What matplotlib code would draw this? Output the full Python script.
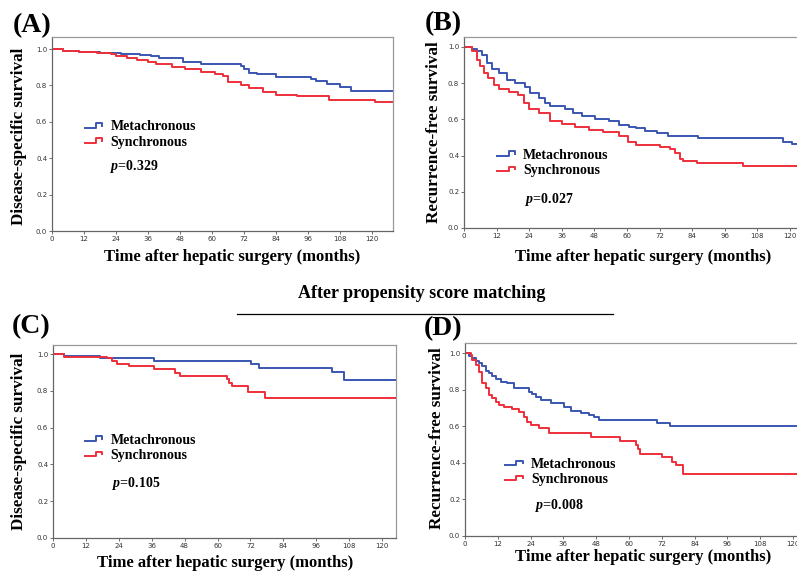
import numpy as np
import matplotlib
matplotlib.use("Agg")
import matplotlib.pyplot as plt
from matplotlib.lines import Line2D
from matplotlib.legend_handler import HandlerLine2D

plt.rcParams['mathtext.fontset'] = 'custom'
plt.rcParams['mathtext.it'] = 'Liberation Serif:italic:bold'
plt.rcParams['mathtext.rm'] = 'Liberation Serif:bold'

BLUE = '#3a56b0'
RED = '#ee2f3a'
SERIF = 'Liberation Serif'

# ---- Kaplan-Meier step data (months, survival) ----
# (A) disease-specific survival, all patients
a_meta_t = [0, 4, 10, 18, 26, 33, 37, 40, 49, 56, 71, 72, 74, 77, 84, 97, 99, 103, 108, 112, 128]
a_meta_s = [1.0, 0.99, 0.985, 0.98, 0.973, 0.968, 0.962, 0.95, 0.93, 0.92, 0.905, 0.89, 0.87, 0.86, 0.848, 0.835, 0.825, 0.81, 0.79, 0.772, 0.772]
a_sync_t = [0, 4, 10, 17, 22, 24, 28, 32, 36, 39, 45, 50, 56, 61, 64, 66, 71, 74, 79, 84, 92, 104, 121, 128]
a_sync_s = [1.0, 0.99, 0.985, 0.98, 0.97, 0.96, 0.952, 0.942, 0.93, 0.918, 0.90, 0.89, 0.875, 0.865, 0.85, 0.82, 0.80, 0.785, 0.762, 0.75, 0.74, 0.722, 0.71, 0.71]

# (B) recurrence-free survival, all patients
b_meta_t = [0, 3, 4.8, 6.6, 8.5, 10.3, 12.8, 15.8, 18.9, 22.6, 24.4, 27.5, 30, 31.8, 37.3, 40, 43.4, 48.3, 53.3, 57,
            60.6, 63.5, 66.6, 70.9, 75.2, 86.2, 117.5, 120.6, 123]
b_meta_s = [1.0, 0.99, 0.975, 0.955, 0.91, 0.877, 0.855, 0.82, 0.80, 0.78, 0.745, 0.716, 0.69, 0.675, 0.66, 0.635, 0.617, 0.60, 0.59, 0.57,
            0.56, 0.551, 0.536, 0.523, 0.508, 0.499, 0.473, 0.462, 0.462]
b_sync_t = [0, 3, 4.8, 6, 7.2, 9, 10.9, 12.8, 16.4, 20, 22, 23.8, 27.5, 31.8, 36, 41, 46, 51, 57, 60.5,
            63.5, 72, 75.8, 77.6, 79.5, 80.7, 85.6, 86.8, 102.8, 123]
b_sync_s = [1.0, 0.975, 0.93, 0.895, 0.855, 0.827, 0.79, 0.77, 0.753, 0.735, 0.69, 0.66, 0.635, 0.59, 0.572, 0.56, 0.54, 0.53, 0.51, 0.477,
            0.459, 0.446, 0.435, 0.413, 0.38, 0.372, 0.361, 0.357, 0.342, 0.342]

# (C) disease-specific survival, after matching
c_meta_t = [0, 3.9, 17.3, 36.7, 72.3, 75.2, 101.7, 106, 125]
c_meta_s = [1.0, 0.989, 0.976, 0.962, 0.944, 0.926, 0.904, 0.859, 0.859]
c_sync_t = [0, 3.9, 19.7, 21.5, 23.3, 27.6, 36.7, 44.6, 46.4, 63.4, 64.3, 65.2, 71.3, 77.4, 125]
c_sync_s = [1.0, 0.982, 0.976, 0.964, 0.946, 0.935, 0.917, 0.899, 0.88, 0.862, 0.841, 0.826, 0.795, 0.763, 0.763]

# (D) recurrence-free survival, after matching
d_meta_t = [0, 1.5, 2.7, 3.9, 5.1, 6.3, 7.6, 8.8, 10, 11.2, 13, 15.5, 17.9, 23.4, 24.6, 25.9, 27.7, 31.3, 36.2,
            38.7, 42.3, 45.4, 47.2, 49, 70.1, 75.2, 122]
d_meta_s = [1.0, 0.984, 0.971, 0.958, 0.944, 0.93, 0.903, 0.889, 0.874, 0.856, 0.843, 0.834, 0.807, 0.789, 0.776, 0.761, 0.743, 0.729, 0.707,
            0.685, 0.674, 0.661, 0.648, 0.632, 0.616, 0.60, 0.60]
d_sync_t = [0, 2.3, 2.7, 3.9, 5.1, 6.3, 7.6, 8.8, 10, 11.2, 12.4, 14.3, 17.3, 19.8, 21.6, 22.8, 24, 27, 30.7,
            46.2, 56.7, 62.6, 63.4, 64, 72, 75.6, 77.4, 79.6, 122]
d_sync_s = [1.0, 0.989, 0.962, 0.934, 0.898, 0.834, 0.807, 0.77, 0.752, 0.734, 0.716, 0.703, 0.692, 0.679, 0.652, 0.625, 0.607, 0.588, 0.562,
            0.54, 0.52, 0.497, 0.473, 0.45, 0.43, 0.406, 0.388, 0.341, 0.341]

groups = ['Metachronous', 'Synchronous']
p_values = ['0.329', '0.027', '0.105', '0.008']
panel_tags = ['(A)', '(B)', '(C)', '(D)']
y_titles = ['Disease-specific survival', 'Recurrence-free survival',
            'Disease-specific survival', 'Recurrence-free survival']
x_title = 'Time after hepatic surgery (months)'
x_ticks = np.arange(0, 121, 12)
y_ticks = np.arange(0, 1.01, 0.2)


class StepHandler(HandlerLine2D):
    # SPSS-like little step glyph in the legend
    def create_artists(self, legend, orig_handle, xdescent, ydescent,
                       width, height, fontsize, trans):
        x0 = -xdescent
        ym = -ydescent + height * 0.3
        xs = [x0, x0 + width * 0.65, x0 + width * 0.65, x0 + width, x0 + width]
        ys = [ym, ym, ym + height * 0.45, ym + height * 0.45, ym + height * 0.2]
        ln = Line2D(xs, ys, color=orig_handle.get_color(), lw=orig_handle.get_linewidth())
        ln.set_transform(trans)
        return [ln]


W, H = 797, 571
fig = plt.figure(figsize=(W / 100, H / 100), dpi=100)

def px_axes(left, top, right, bottom):
    return fig.add_axes([left / W, 1 - bottom / H, (right - left) / W, (bottom - top) / H])

panels = [
    dict(box=(52, 37, 393, 231), xmax=127.9, ytop=1.066, data=(a_meta_t, a_meta_s, a_sync_t, a_sync_s),
         leg=(0.097, 0.57), ptxt=(21.7, 0.357), tag=(32, 26), ylab=(19, 136), xlab=(232, 257)),
    dict(box=(464, 37, 800, 228), xmax=123.7, ytop=1.055, data=(b_meta_t, b_meta_s, b_sync_t, b_sync_s),
         leg=(0.099, 0.415), ptxt=(22.4, 0.155), tag=(443, 24), ylab=(434, 132), xlab=(643, 257)),
    dict(box=(53, 345, 396, 538), xmax=125.1, ytop=1.049, data=(c_meta_t, c_meta_s, c_sync_t, c_sync_s),
         leg=(0.093, 0.54), ptxt=(21.4, 0.295), tag=(31, 327), ylab=(19, 441), xlab=(225, 563)),
    dict(box=(465, 343, 800, 536), xmax=122.6, ytop=1.055, data=(d_meta_t, d_meta_s, d_sync_t, d_sync_s),
         leg=(0.12, 0.405), ptxt=(25.6, 0.165), tag=(443, 329), ylab=(437, 438), xlab=(643, 557)),
]

for i, pn in enumerate(panels):
    ax = px_axes(*pn['box'])
    mt, ms, st, ss = pn['data']
    h1, = ax.step(mt, ms, where='post', color=BLUE, lw=1.4, label=groups[0])
    h2, = ax.step(st, ss, where='post', color=RED, lw=1.4, label=groups[1])
    ax.set_xlim(0, pn['xmax'])
    ax.set_ylim(0, pn['ytop'])
    ax.set_xticks(x_ticks)
    ax.set_yticks(y_ticks)
    ax.set_yticklabels(['%.1f' % v for v in y_ticks])
    ax.tick_params(labelsize=5, length=2.5, width=0.6, pad=1, color='#555555', labelcolor='#333333')
    for s in ax.spines.values():
        s.set_color('#999999')
        s.set_linewidth(0.9)
    ax.spines['left'].set_color('#666666')
    ax.spines['bottom'].set_color('#666666')

    ax.legend(handles=[h1, h2], loc='upper left', bbox_to_anchor=pn['leg'], frameon=False,
              prop={'family': SERIF, 'weight': 'bold', 'size': 10},
              handlelength=1.25, handletextpad=0.6, labelspacing=0.15,
              borderpad=0, borderaxespad=0,
              handler_map={Line2D: StepHandler()})
    ax.text(pn['ptxt'][0], pn['ptxt'][1], '$p$=' + p_values[i], family=SERIF, weight='bold',
            fontsize=10, va='center', ha='left')

    fig.text(pn['tag'][0] / W, 1 - pn['tag'][1] / H, panel_tags[i], family=SERIF, weight='bold',
             fontsize=20, ha='center', va='center')
    fig.text(pn['ylab'][0] / W, 1 - pn['ylab'][1] / H, y_titles[i], family=SERIF, weight='bold',
             fontsize=12.3, rotation=90, ha='center', va='center')
    fig.text(pn['xlab'][0] / W, 1 - pn['xlab'][1] / H, x_title, family=SERIF, weight='bold',
             fontsize=12, ha='center', va='center')

fig.text(422 / W, 1 - 294 / H, 'After propensity score matching', family=SERIF, weight='bold',
         fontsize=13, ha='center', va='center')
fig.add_artist(Line2D([237 / W, 613 / W], [1 - 314 / H, 1 - 314 / H], color='black', lw=0.9))

fig.savefig('out.png', dpi=100)
